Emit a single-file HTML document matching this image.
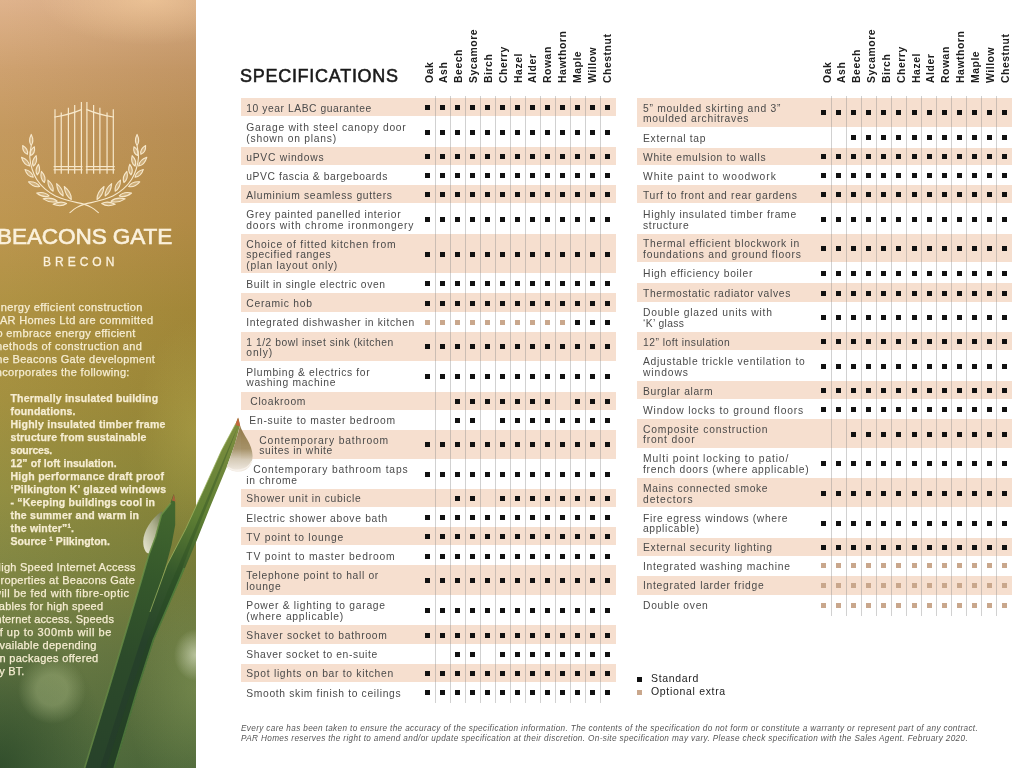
<!DOCTYPE html>
<html lang="en">
<head>
<meta charset="utf-8">
<title>Beacons Gate Brecon - Specifications</title>
<style>
html,body{margin:0;padding:0;}
body{width:1024px;height:768px;position:relative;overflow:hidden;background:#fff;font-family:"Liberation Sans",sans-serif;color:#3a3a3a;}
#panel{position:absolute;left:0;top:0;width:196px;height:768px;overflow:hidden;
 background:
  radial-gradient(ellipse 110px 45px at 150px 0px, rgba(255,215,165,.5), rgba(255,215,165,0) 100%),
  radial-gradient(ellipse 22px 26px at 196px 655px, rgba(235,240,215,.6), rgba(235,240,215,0) 100%),
  radial-gradient(ellipse 70px 120px at 196px 690px, rgba(150,170,100,.38), rgba(150,170,100,0) 100%),
  radial-gradient(ellipse 34px 34px at 52px 690px, rgba(175,190,135,.42) 45%, rgba(175,190,135,0) 100%),
  radial-gradient(ellipse 110px 150px at 0px 768px, rgba(35,65,35,.7), rgba(35,65,35,0) 100%),
  linear-gradient(90deg, rgba(255,255,255,.04), rgba(0,0,0,.05)),
  radial-gradient(ellipse 60px 110px at 196px 430px, rgba(200,190,90,.35), rgba(200,190,90,0) 100%),
  linear-gradient(180deg,#deb088 0px,#cc9d69 70px,#c29558 130px,#bb9249 220px,#ab8e3b 310px,#a08c38 400px,#8f8a3a 490px,#7c823c 570px,#66773f 650px,#4d693a 768px);}
#fg{position:absolute;left:0;top:0;width:1024px;height:768px;filter:blur(.4px);}
#art{position:absolute;left:0;top:0;width:1024px;height:768px;pointer-events:none;filter:blur(.45px);}
.sh{position:absolute;background:#f6dfcf;}
.vl{position:absolute;width:1px;background:rgba(135,135,135,.38);}
.lb{position:absolute;white-space:nowrap;font-size:10.3px;line-height:10.6px;letter-spacing:.68px;color:#4a4a4a;}
.dk,.dt{position:absolute;width:5px;height:5px;background:#111;}
.dt{background:#c9a78c;}
.hd{position:absolute;white-space:nowrap;font-weight:bold;font-size:10.4px;line-height:10px;letter-spacing:.55px;color:#1c1c1c;transform-origin:0 0;transform:rotate(-90deg) translateY(-100%);}
h1{position:absolute;left:240px;top:65.2px;margin:0;font-size:18px;line-height:22px;font-weight:normal;-webkit-text-stroke:.55px #1a1a1a;letter-spacing:.72px;color:#1a1a1a;white-space:nowrap;}
.logo-t{position:absolute;left:-3px;top:223.5px;margin:0;font-size:22.6px;line-height:26px;font-weight:normal;-webkit-text-stroke:.6px #fbf1dc;color:#fbf1dc;white-space:nowrap;letter-spacing:-.12px;}
.logo-s{position:absolute;left:43px;top:254px;font-size:12px;line-height:16px;letter-spacing:4px;-webkit-text-stroke:.3px #fbf1dc;color:#fbf1dc;white-space:nowrap;}
.p1,.p2,.p3{position:absolute;white-space:nowrap;font-size:11px;line-height:13px;color:#f6edd2;letter-spacing:.3px;-webkit-text-stroke:.25px #f6edd2;}
.p1{left:-7px;}
.p2{left:10.5px;font-weight:bold;font-size:10.5px;}
.p3{left:-7px;}
.lg{position:absolute;left:651px;font-size:10.5px;line-height:12px;letter-spacing:.68px;color:#222;white-space:nowrap;}
.ft{position:absolute;left:241px;top:723.9px;font-size:8.2px;line-height:10.2px;font-style:italic;color:#555;white-space:nowrap;letter-spacing:.36px;}
</style>
</head>
<body>
<div id="panel"></div>
<div id="fg">
<h1>SPECIFICATIONS</h1>
<div class="sh" style="left:240.5px;top:97.7px;width:375.1px;height:18.4px"></div>
<div class="sh" style="left:240.5px;top:147.2px;width:375.1px;height:18.2px"></div>
<div class="sh" style="left:240.5px;top:185.2px;width:375.1px;height:18.2px"></div>
<div class="sh" style="left:240.5px;top:234.2px;width:375.1px;height:38.9px"></div>
<div class="sh" style="left:240.5px;top:293.4px;width:375.1px;height:18.3px"></div>
<div class="sh" style="left:240.5px;top:331.7px;width:375.1px;height:29.2px"></div>
<div class="sh" style="left:240.5px;top:391.5px;width:375.1px;height:18.2px"></div>
<div class="sh" style="left:240.5px;top:429.7px;width:375.1px;height:29.0px"></div>
<div class="sh" style="left:240.5px;top:488.7px;width:375.1px;height:18.3px"></div>
<div class="sh" style="left:240.5px;top:527.2px;width:375.1px;height:18.2px"></div>
<div class="sh" style="left:240.5px;top:565.4px;width:375.1px;height:29.2px"></div>
<div class="sh" style="left:240.5px;top:625.2px;width:375.1px;height:18.4px"></div>
<div class="sh" style="left:240.5px;top:663.5px;width:375.1px;height:18.4px"></div>
<div class="vl" style="left:434.89px;top:95.5px;height:607.5px"></div>
<div class="vl" style="left:449.87px;top:95.5px;height:607.5px"></div>
<div class="vl" style="left:464.85px;top:95.5px;height:607.5px"></div>
<div class="vl" style="left:479.83px;top:95.5px;height:607.5px"></div>
<div class="vl" style="left:494.81px;top:95.5px;height:607.5px"></div>
<div class="vl" style="left:509.79px;top:95.5px;height:607.5px"></div>
<div class="vl" style="left:524.77px;top:95.5px;height:607.5px"></div>
<div class="vl" style="left:539.75px;top:95.5px;height:607.5px"></div>
<div class="vl" style="left:554.73px;top:95.5px;height:607.5px"></div>
<div class="vl" style="left:569.71px;top:95.5px;height:607.5px"></div>
<div class="vl" style="left:584.69px;top:95.5px;height:607.5px"></div>
<div class="vl" style="left:599.67px;top:95.5px;height:607.5px"></div>
<div class="lb" style="left:246.3px;top:103.50px;letter-spacing:0.555px">10 year LABC guarantee</div>
<i class="dk" style="left:425.40px;top:105.00px"></i>
<i class="dk" style="left:440.38px;top:105.00px"></i>
<i class="dk" style="left:455.36px;top:105.00px"></i>
<i class="dk" style="left:470.34px;top:105.00px"></i>
<i class="dk" style="left:485.32px;top:105.00px"></i>
<i class="dk" style="left:500.30px;top:105.00px"></i>
<i class="dk" style="left:515.28px;top:105.00px"></i>
<i class="dk" style="left:530.26px;top:105.00px"></i>
<i class="dk" style="left:545.24px;top:105.00px"></i>
<i class="dk" style="left:560.22px;top:105.00px"></i>
<i class="dk" style="left:575.20px;top:105.00px"></i>
<i class="dk" style="left:590.18px;top:105.00px"></i>
<i class="dk" style="left:605.16px;top:105.00px"></i>
<div class="lb" style="left:246.3px;top:122.95px;letter-spacing:0.705px">Garage with steel canopy door</div>
<div class="lb" style="left:246.3px;top:133.55px;letter-spacing:0.759px">(shown on plans)</div>
<i class="dk" style="left:425.40px;top:129.75px"></i>
<i class="dk" style="left:440.38px;top:129.75px"></i>
<i class="dk" style="left:455.36px;top:129.75px"></i>
<i class="dk" style="left:470.34px;top:129.75px"></i>
<i class="dk" style="left:485.32px;top:129.75px"></i>
<i class="dk" style="left:500.30px;top:129.75px"></i>
<i class="dk" style="left:515.28px;top:129.75px"></i>
<i class="dk" style="left:530.26px;top:129.75px"></i>
<i class="dk" style="left:545.24px;top:129.75px"></i>
<i class="dk" style="left:560.22px;top:129.75px"></i>
<i class="dk" style="left:575.20px;top:129.75px"></i>
<i class="dk" style="left:590.18px;top:129.75px"></i>
<i class="dk" style="left:605.16px;top:129.75px"></i>
<div class="lb" style="left:246.3px;top:152.90px;letter-spacing:0.732px">uPVC windows</div>
<i class="dk" style="left:425.40px;top:154.40px"></i>
<i class="dk" style="left:440.38px;top:154.40px"></i>
<i class="dk" style="left:455.36px;top:154.40px"></i>
<i class="dk" style="left:470.34px;top:154.40px"></i>
<i class="dk" style="left:485.32px;top:154.40px"></i>
<i class="dk" style="left:500.30px;top:154.40px"></i>
<i class="dk" style="left:515.28px;top:154.40px"></i>
<i class="dk" style="left:530.26px;top:154.40px"></i>
<i class="dk" style="left:545.24px;top:154.40px"></i>
<i class="dk" style="left:560.22px;top:154.40px"></i>
<i class="dk" style="left:575.20px;top:154.40px"></i>
<i class="dk" style="left:590.18px;top:154.40px"></i>
<i class="dk" style="left:605.16px;top:154.40px"></i>
<div class="lb" style="left:246.3px;top:171.90px;letter-spacing:0.58px">uPVC fascia &amp; bargeboards</div>
<i class="dk" style="left:425.40px;top:173.40px"></i>
<i class="dk" style="left:440.38px;top:173.40px"></i>
<i class="dk" style="left:455.36px;top:173.40px"></i>
<i class="dk" style="left:470.34px;top:173.40px"></i>
<i class="dk" style="left:485.32px;top:173.40px"></i>
<i class="dk" style="left:500.30px;top:173.40px"></i>
<i class="dk" style="left:515.28px;top:173.40px"></i>
<i class="dk" style="left:530.26px;top:173.40px"></i>
<i class="dk" style="left:545.24px;top:173.40px"></i>
<i class="dk" style="left:560.22px;top:173.40px"></i>
<i class="dk" style="left:575.20px;top:173.40px"></i>
<i class="dk" style="left:590.18px;top:173.40px"></i>
<i class="dk" style="left:605.16px;top:173.40px"></i>
<div class="lb" style="left:246.3px;top:190.90px;letter-spacing:0.677px">Aluminium seamless gutters</div>
<i class="dk" style="left:425.40px;top:192.40px"></i>
<i class="dk" style="left:440.38px;top:192.40px"></i>
<i class="dk" style="left:455.36px;top:192.40px"></i>
<i class="dk" style="left:470.34px;top:192.40px"></i>
<i class="dk" style="left:485.32px;top:192.40px"></i>
<i class="dk" style="left:500.30px;top:192.40px"></i>
<i class="dk" style="left:515.28px;top:192.40px"></i>
<i class="dk" style="left:530.26px;top:192.40px"></i>
<i class="dk" style="left:545.24px;top:192.40px"></i>
<i class="dk" style="left:560.22px;top:192.40px"></i>
<i class="dk" style="left:575.20px;top:192.40px"></i>
<i class="dk" style="left:590.18px;top:192.40px"></i>
<i class="dk" style="left:605.16px;top:192.40px"></i>
<div class="lb" style="left:246.3px;top:210.10px;letter-spacing:0.662px">Grey painted panelled interior</div>
<div class="lb" style="left:246.3px;top:220.70px;letter-spacing:0.821px">doors with chrome ironmongery</div>
<i class="dk" style="left:425.40px;top:216.90px"></i>
<i class="dk" style="left:440.38px;top:216.90px"></i>
<i class="dk" style="left:455.36px;top:216.90px"></i>
<i class="dk" style="left:470.34px;top:216.90px"></i>
<i class="dk" style="left:485.32px;top:216.90px"></i>
<i class="dk" style="left:500.30px;top:216.90px"></i>
<i class="dk" style="left:515.28px;top:216.90px"></i>
<i class="dk" style="left:530.26px;top:216.90px"></i>
<i class="dk" style="left:545.24px;top:216.90px"></i>
<i class="dk" style="left:560.22px;top:216.90px"></i>
<i class="dk" style="left:575.20px;top:216.90px"></i>
<i class="dk" style="left:590.18px;top:216.90px"></i>
<i class="dk" style="left:605.16px;top:216.90px"></i>
<div class="lb" style="left:246.3px;top:239.65px;letter-spacing:0.77px">Choice of fitted kitchen from</div>
<div class="lb" style="left:246.3px;top:250.25px;letter-spacing:0.628px">specified ranges</div>
<div class="lb" style="left:246.3px;top:260.85px;letter-spacing:0.74px">(plan layout only)</div>
<i class="dk" style="left:425.40px;top:251.75px"></i>
<i class="dk" style="left:440.38px;top:251.75px"></i>
<i class="dk" style="left:455.36px;top:251.75px"></i>
<i class="dk" style="left:470.34px;top:251.75px"></i>
<i class="dk" style="left:485.32px;top:251.75px"></i>
<i class="dk" style="left:500.30px;top:251.75px"></i>
<i class="dk" style="left:515.28px;top:251.75px"></i>
<i class="dk" style="left:530.26px;top:251.75px"></i>
<i class="dk" style="left:545.24px;top:251.75px"></i>
<i class="dk" style="left:560.22px;top:251.75px"></i>
<i class="dk" style="left:575.20px;top:251.75px"></i>
<i class="dk" style="left:590.18px;top:251.75px"></i>
<i class="dk" style="left:605.16px;top:251.75px"></i>
<div class="lb" style="left:246.3px;top:279.85px;letter-spacing:0.62px">Built in single electric oven</div>
<i class="dk" style="left:425.40px;top:281.35px"></i>
<i class="dk" style="left:440.38px;top:281.35px"></i>
<i class="dk" style="left:455.36px;top:281.35px"></i>
<i class="dk" style="left:470.34px;top:281.35px"></i>
<i class="dk" style="left:485.32px;top:281.35px"></i>
<i class="dk" style="left:500.30px;top:281.35px"></i>
<i class="dk" style="left:515.28px;top:281.35px"></i>
<i class="dk" style="left:530.26px;top:281.35px"></i>
<i class="dk" style="left:545.24px;top:281.35px"></i>
<i class="dk" style="left:560.22px;top:281.35px"></i>
<i class="dk" style="left:575.20px;top:281.35px"></i>
<i class="dk" style="left:590.18px;top:281.35px"></i>
<i class="dk" style="left:605.16px;top:281.35px"></i>
<div class="lb" style="left:246.3px;top:299.15px;letter-spacing:0.722px">Ceramic hob</div>
<i class="dk" style="left:425.40px;top:300.65px"></i>
<i class="dk" style="left:440.38px;top:300.65px"></i>
<i class="dk" style="left:455.36px;top:300.65px"></i>
<i class="dk" style="left:470.34px;top:300.65px"></i>
<i class="dk" style="left:485.32px;top:300.65px"></i>
<i class="dk" style="left:500.30px;top:300.65px"></i>
<i class="dk" style="left:515.28px;top:300.65px"></i>
<i class="dk" style="left:530.26px;top:300.65px"></i>
<i class="dk" style="left:545.24px;top:300.65px"></i>
<i class="dk" style="left:560.22px;top:300.65px"></i>
<i class="dk" style="left:575.20px;top:300.65px"></i>
<i class="dk" style="left:590.18px;top:300.65px"></i>
<i class="dk" style="left:605.16px;top:300.65px"></i>
<div class="lb" style="left:246.3px;top:318.30px;letter-spacing:0.655px">Integrated dishwasher in kitchen</div>
<i class="dt" style="left:425.40px;top:319.80px"></i>
<i class="dt" style="left:440.38px;top:319.80px"></i>
<i class="dt" style="left:455.36px;top:319.80px"></i>
<i class="dt" style="left:470.34px;top:319.80px"></i>
<i class="dt" style="left:485.32px;top:319.80px"></i>
<i class="dt" style="left:500.30px;top:319.80px"></i>
<i class="dt" style="left:515.28px;top:319.80px"></i>
<i class="dt" style="left:530.26px;top:319.80px"></i>
<i class="dt" style="left:545.24px;top:319.80px"></i>
<i class="dt" style="left:560.22px;top:319.80px"></i>
<i class="dk" style="left:575.20px;top:319.80px"></i>
<i class="dk" style="left:590.18px;top:319.80px"></i>
<i class="dk" style="left:605.16px;top:319.80px"></i>
<div class="lb" style="left:246.3px;top:337.60px;letter-spacing:0.526px">1 1/2 bowl inset sink (kitchen</div>
<div class="lb" style="left:246.3px;top:348.20px;letter-spacing:0.868px">only)</div>
<i class="dk" style="left:425.40px;top:344.40px"></i>
<i class="dk" style="left:440.38px;top:344.40px"></i>
<i class="dk" style="left:455.36px;top:344.40px"></i>
<i class="dk" style="left:470.34px;top:344.40px"></i>
<i class="dk" style="left:485.32px;top:344.40px"></i>
<i class="dk" style="left:500.30px;top:344.40px"></i>
<i class="dk" style="left:515.28px;top:344.40px"></i>
<i class="dk" style="left:530.26px;top:344.40px"></i>
<i class="dk" style="left:545.24px;top:344.40px"></i>
<i class="dk" style="left:560.22px;top:344.40px"></i>
<i class="dk" style="left:575.20px;top:344.40px"></i>
<i class="dk" style="left:590.18px;top:344.40px"></i>
<i class="dk" style="left:605.16px;top:344.40px"></i>
<div class="lb" style="left:246.3px;top:367.50px;letter-spacing:0.662px">Plumbing &amp; electrics for</div>
<div class="lb" style="left:246.3px;top:378.10px;letter-spacing:0.681px">washing machine</div>
<i class="dk" style="left:425.40px;top:374.30px"></i>
<i class="dk" style="left:440.38px;top:374.30px"></i>
<i class="dk" style="left:455.36px;top:374.30px"></i>
<i class="dk" style="left:470.34px;top:374.30px"></i>
<i class="dk" style="left:485.32px;top:374.30px"></i>
<i class="dk" style="left:500.30px;top:374.30px"></i>
<i class="dk" style="left:515.28px;top:374.30px"></i>
<i class="dk" style="left:530.26px;top:374.30px"></i>
<i class="dk" style="left:545.24px;top:374.30px"></i>
<i class="dk" style="left:560.22px;top:374.30px"></i>
<i class="dk" style="left:575.20px;top:374.30px"></i>
<i class="dk" style="left:590.18px;top:374.30px"></i>
<i class="dk" style="left:605.16px;top:374.30px"></i>
<div class="lb" style="left:250.3px;top:397.20px;letter-spacing:0.663px">Cloakroom</div>
<i class="dk" style="left:455.36px;top:398.70px"></i>
<i class="dk" style="left:470.34px;top:398.70px"></i>
<i class="dk" style="left:485.32px;top:398.70px"></i>
<i class="dk" style="left:500.30px;top:398.70px"></i>
<i class="dk" style="left:515.28px;top:398.70px"></i>
<i class="dk" style="left:530.26px;top:398.70px"></i>
<i class="dk" style="left:545.24px;top:398.70px"></i>
<i class="dk" style="left:575.20px;top:398.70px"></i>
<i class="dk" style="left:590.18px;top:398.70px"></i>
<i class="dk" style="left:605.16px;top:398.70px"></i>
<div class="lb" style="left:249.3px;top:416.30px;letter-spacing:0.745px">En-suite to master bedroom</div>
<i class="dk" style="left:455.36px;top:417.80px"></i>
<i class="dk" style="left:470.34px;top:417.80px"></i>
<i class="dk" style="left:500.30px;top:417.80px"></i>
<i class="dk" style="left:515.28px;top:417.80px"></i>
<i class="dk" style="left:530.26px;top:417.80px"></i>
<i class="dk" style="left:545.24px;top:417.80px"></i>
<i class="dk" style="left:560.22px;top:417.80px"></i>
<i class="dk" style="left:575.20px;top:417.80px"></i>
<i class="dk" style="left:590.18px;top:417.80px"></i>
<i class="dk" style="left:605.16px;top:417.80px"></i>
<div class="lb" style="left:259.3px;top:435.50px;letter-spacing:0.865px">Contemporary bathroom</div>
<div class="lb" style="left:259.3px;top:446.10px;letter-spacing:0.594px">suites in white</div>
<i class="dk" style="left:425.40px;top:442.30px"></i>
<i class="dk" style="left:440.38px;top:442.30px"></i>
<i class="dk" style="left:455.36px;top:442.30px"></i>
<i class="dk" style="left:470.34px;top:442.30px"></i>
<i class="dk" style="left:485.32px;top:442.30px"></i>
<i class="dk" style="left:500.30px;top:442.30px"></i>
<i class="dk" style="left:515.28px;top:442.30px"></i>
<i class="dk" style="left:530.26px;top:442.30px"></i>
<i class="dk" style="left:545.24px;top:442.30px"></i>
<i class="dk" style="left:560.22px;top:442.30px"></i>
<i class="dk" style="left:575.20px;top:442.30px"></i>
<i class="dk" style="left:590.18px;top:442.30px"></i>
<i class="dk" style="left:605.16px;top:442.30px"></i>
<div class="lb" style="left:253.3px;top:465.00px;letter-spacing:0.815px">Contemporary bathroom taps</div>
<div class="lb" style="left:246.3px;top:475.60px;letter-spacing:0.698px">in chrome</div>
<i class="dk" style="left:425.40px;top:471.80px"></i>
<i class="dk" style="left:440.38px;top:471.80px"></i>
<i class="dk" style="left:455.36px;top:471.80px"></i>
<i class="dk" style="left:470.34px;top:471.80px"></i>
<i class="dk" style="left:485.32px;top:471.80px"></i>
<i class="dk" style="left:500.30px;top:471.80px"></i>
<i class="dk" style="left:515.28px;top:471.80px"></i>
<i class="dk" style="left:530.26px;top:471.80px"></i>
<i class="dk" style="left:545.24px;top:471.80px"></i>
<i class="dk" style="left:560.22px;top:471.80px"></i>
<i class="dk" style="left:575.20px;top:471.80px"></i>
<i class="dk" style="left:590.18px;top:471.80px"></i>
<i class="dk" style="left:605.16px;top:471.80px"></i>
<div class="lb" style="left:246.3px;top:494.45px;letter-spacing:0.682px">Shower unit in cubicle</div>
<i class="dk" style="left:455.36px;top:495.95px"></i>
<i class="dk" style="left:470.34px;top:495.95px"></i>
<i class="dk" style="left:500.30px;top:495.95px"></i>
<i class="dk" style="left:515.28px;top:495.95px"></i>
<i class="dk" style="left:530.26px;top:495.95px"></i>
<i class="dk" style="left:545.24px;top:495.95px"></i>
<i class="dk" style="left:560.22px;top:495.95px"></i>
<i class="dk" style="left:575.20px;top:495.95px"></i>
<i class="dk" style="left:590.18px;top:495.95px"></i>
<i class="dk" style="left:605.16px;top:495.95px"></i>
<div class="lb" style="left:246.3px;top:513.70px;letter-spacing:0.694px">Electric shower above bath</div>
<i class="dk" style="left:425.40px;top:515.20px"></i>
<i class="dk" style="left:440.38px;top:515.20px"></i>
<i class="dk" style="left:455.36px;top:515.20px"></i>
<i class="dk" style="left:470.34px;top:515.20px"></i>
<i class="dk" style="left:485.32px;top:515.20px"></i>
<i class="dk" style="left:500.30px;top:515.20px"></i>
<i class="dk" style="left:515.28px;top:515.20px"></i>
<i class="dk" style="left:530.26px;top:515.20px"></i>
<i class="dk" style="left:545.24px;top:515.20px"></i>
<i class="dk" style="left:560.22px;top:515.20px"></i>
<i class="dk" style="left:575.20px;top:515.20px"></i>
<i class="dk" style="left:590.18px;top:515.20px"></i>
<i class="dk" style="left:605.16px;top:515.20px"></i>
<div class="lb" style="left:246.3px;top:532.90px;letter-spacing:0.784px">TV point to lounge</div>
<i class="dk" style="left:425.40px;top:534.40px"></i>
<i class="dk" style="left:440.38px;top:534.40px"></i>
<i class="dk" style="left:455.36px;top:534.40px"></i>
<i class="dk" style="left:470.34px;top:534.40px"></i>
<i class="dk" style="left:485.32px;top:534.40px"></i>
<i class="dk" style="left:500.30px;top:534.40px"></i>
<i class="dk" style="left:515.28px;top:534.40px"></i>
<i class="dk" style="left:530.26px;top:534.40px"></i>
<i class="dk" style="left:545.24px;top:534.40px"></i>
<i class="dk" style="left:560.22px;top:534.40px"></i>
<i class="dk" style="left:575.20px;top:534.40px"></i>
<i class="dk" style="left:590.18px;top:534.40px"></i>
<i class="dk" style="left:605.16px;top:534.40px"></i>
<div class="lb" style="left:246.3px;top:552.00px;letter-spacing:0.83px">TV point to master bedroom</div>
<i class="dk" style="left:425.40px;top:553.50px"></i>
<i class="dk" style="left:440.38px;top:553.50px"></i>
<i class="dk" style="left:455.36px;top:553.50px"></i>
<i class="dk" style="left:470.34px;top:553.50px"></i>
<i class="dk" style="left:485.32px;top:553.50px"></i>
<i class="dk" style="left:500.30px;top:553.50px"></i>
<i class="dk" style="left:515.28px;top:553.50px"></i>
<i class="dk" style="left:530.26px;top:553.50px"></i>
<i class="dk" style="left:545.24px;top:553.50px"></i>
<i class="dk" style="left:560.22px;top:553.50px"></i>
<i class="dk" style="left:575.20px;top:553.50px"></i>
<i class="dk" style="left:590.18px;top:553.50px"></i>
<i class="dk" style="left:605.16px;top:553.50px"></i>
<div class="lb" style="left:246.3px;top:571.30px;letter-spacing:0.677px">Telephone point to hall or</div>
<div class="lb" style="left:246.3px;top:581.90px;letter-spacing:0.696px">lounge</div>
<i class="dk" style="left:425.40px;top:578.10px"></i>
<i class="dk" style="left:440.38px;top:578.10px"></i>
<i class="dk" style="left:455.36px;top:578.10px"></i>
<i class="dk" style="left:470.34px;top:578.10px"></i>
<i class="dk" style="left:485.32px;top:578.10px"></i>
<i class="dk" style="left:500.30px;top:578.10px"></i>
<i class="dk" style="left:515.28px;top:578.10px"></i>
<i class="dk" style="left:530.26px;top:578.10px"></i>
<i class="dk" style="left:545.24px;top:578.10px"></i>
<i class="dk" style="left:560.22px;top:578.10px"></i>
<i class="dk" style="left:575.20px;top:578.10px"></i>
<i class="dk" style="left:590.18px;top:578.10px"></i>
<i class="dk" style="left:605.16px;top:578.10px"></i>
<div class="lb" style="left:246.3px;top:601.20px;letter-spacing:0.717px">Power &amp; lighting to garage</div>
<div class="lb" style="left:246.3px;top:611.80px;letter-spacing:0.751px">(where applicable)</div>
<i class="dk" style="left:425.40px;top:608.00px"></i>
<i class="dk" style="left:440.38px;top:608.00px"></i>
<i class="dk" style="left:455.36px;top:608.00px"></i>
<i class="dk" style="left:470.34px;top:608.00px"></i>
<i class="dk" style="left:485.32px;top:608.00px"></i>
<i class="dk" style="left:500.30px;top:608.00px"></i>
<i class="dk" style="left:515.28px;top:608.00px"></i>
<i class="dk" style="left:530.26px;top:608.00px"></i>
<i class="dk" style="left:545.24px;top:608.00px"></i>
<i class="dk" style="left:560.22px;top:608.00px"></i>
<i class="dk" style="left:575.20px;top:608.00px"></i>
<i class="dk" style="left:590.18px;top:608.00px"></i>
<i class="dk" style="left:605.16px;top:608.00px"></i>
<div class="lb" style="left:246.3px;top:631.00px;letter-spacing:0.731px">Shaver socket to bathroom</div>
<i class="dk" style="left:425.40px;top:632.50px"></i>
<i class="dk" style="left:440.38px;top:632.50px"></i>
<i class="dk" style="left:455.36px;top:632.50px"></i>
<i class="dk" style="left:470.34px;top:632.50px"></i>
<i class="dk" style="left:485.32px;top:632.50px"></i>
<i class="dk" style="left:500.30px;top:632.50px"></i>
<i class="dk" style="left:515.28px;top:632.50px"></i>
<i class="dk" style="left:530.26px;top:632.50px"></i>
<i class="dk" style="left:545.24px;top:632.50px"></i>
<i class="dk" style="left:560.22px;top:632.50px"></i>
<i class="dk" style="left:575.20px;top:632.50px"></i>
<i class="dk" style="left:590.18px;top:632.50px"></i>
<i class="dk" style="left:605.16px;top:632.50px"></i>
<div class="lb" style="left:246.3px;top:650.15px;letter-spacing:0.613px">Shaver socket to en-suite</div>
<i class="dk" style="left:455.36px;top:651.65px"></i>
<i class="dk" style="left:470.34px;top:651.65px"></i>
<i class="dk" style="left:500.30px;top:651.65px"></i>
<i class="dk" style="left:515.28px;top:651.65px"></i>
<i class="dk" style="left:530.26px;top:651.65px"></i>
<i class="dk" style="left:545.24px;top:651.65px"></i>
<i class="dk" style="left:560.22px;top:651.65px"></i>
<i class="dk" style="left:575.20px;top:651.65px"></i>
<i class="dk" style="left:590.18px;top:651.65px"></i>
<i class="dk" style="left:605.16px;top:651.65px"></i>
<div class="lb" style="left:246.3px;top:669.30px;letter-spacing:0.708px">Spot lights on bar to kitchen</div>
<i class="dk" style="left:425.40px;top:670.80px"></i>
<i class="dk" style="left:440.38px;top:670.80px"></i>
<i class="dk" style="left:455.36px;top:670.80px"></i>
<i class="dk" style="left:470.34px;top:670.80px"></i>
<i class="dk" style="left:485.32px;top:670.80px"></i>
<i class="dk" style="left:500.30px;top:670.80px"></i>
<i class="dk" style="left:515.28px;top:670.80px"></i>
<i class="dk" style="left:530.26px;top:670.80px"></i>
<i class="dk" style="left:545.24px;top:670.80px"></i>
<i class="dk" style="left:560.22px;top:670.80px"></i>
<i class="dk" style="left:575.20px;top:670.80px"></i>
<i class="dk" style="left:590.18px;top:670.80px"></i>
<i class="dk" style="left:605.16px;top:670.80px"></i>
<div class="lb" style="left:246.3px;top:688.65px;letter-spacing:0.663px">Smooth skim finish to ceilings</div>
<i class="dk" style="left:425.40px;top:690.15px"></i>
<i class="dk" style="left:440.38px;top:690.15px"></i>
<i class="dk" style="left:455.36px;top:690.15px"></i>
<i class="dk" style="left:470.34px;top:690.15px"></i>
<i class="dk" style="left:485.32px;top:690.15px"></i>
<i class="dk" style="left:500.30px;top:690.15px"></i>
<i class="dk" style="left:515.28px;top:690.15px"></i>
<i class="dk" style="left:530.26px;top:690.15px"></i>
<i class="dk" style="left:545.24px;top:690.15px"></i>
<i class="dk" style="left:560.22px;top:690.15px"></i>
<i class="dk" style="left:575.20px;top:690.15px"></i>
<i class="dk" style="left:590.18px;top:690.15px"></i>
<i class="dk" style="left:605.16px;top:690.15px"></i>
<div class="hd" style="left:434.60px;top:83px">Oak</div>
<div class="hd" style="left:449.44px;top:83px">Ash</div>
<div class="hd" style="left:464.28px;top:83px">Beech</div>
<div class="hd" style="left:479.12px;top:83px">Sycamore</div>
<div class="hd" style="left:493.96px;top:83px">Birch</div>
<div class="hd" style="left:508.80px;top:83px">Cherry</div>
<div class="hd" style="left:523.64px;top:83px">Hazel</div>
<div class="hd" style="left:538.48px;top:83px">Alder</div>
<div class="hd" style="left:553.32px;top:83px">Rowan</div>
<div class="hd" style="left:568.16px;top:83px">Hawthorn</div>
<div class="hd" style="left:583.00px;top:83px">Maple</div>
<div class="hd" style="left:597.84px;top:83px">Willow</div>
<div class="hd" style="left:612.68px;top:83px">Chestnut</div>
<div class="sh" style="left:637px;top:97.7px;width:375px;height:29.1px"></div>
<div class="sh" style="left:637px;top:147.5px;width:375px;height:17.7px"></div>
<div class="sh" style="left:637px;top:185.2px;width:375px;height:18.2px"></div>
<div class="sh" style="left:637px;top:234.2px;width:375px;height:27.9px"></div>
<div class="sh" style="left:637px;top:283.2px;width:375px;height:18.5px"></div>
<div class="sh" style="left:637px;top:332.2px;width:375px;height:18.0px"></div>
<div class="sh" style="left:637px;top:381.2px;width:375px;height:17.7px"></div>
<div class="sh" style="left:637px;top:419.4px;width:375px;height:28.3px"></div>
<div class="sh" style="left:637px;top:478.2px;width:375px;height:28.8px"></div>
<div class="sh" style="left:637px;top:537.9px;width:375px;height:18.5px"></div>
<div class="sh" style="left:637px;top:576.4px;width:375px;height:18.2px"></div>
<div class="vl" style="left:830.63px;top:95.5px;height:520.5px"></div>
<div class="vl" style="left:845.71px;top:95.5px;height:520.5px"></div>
<div class="vl" style="left:860.77px;top:95.5px;height:520.5px"></div>
<div class="vl" style="left:875.85px;top:95.5px;height:520.5px"></div>
<div class="vl" style="left:890.91px;top:95.5px;height:520.5px"></div>
<div class="vl" style="left:905.99px;top:95.5px;height:520.5px"></div>
<div class="vl" style="left:921.06px;top:95.5px;height:520.5px"></div>
<div class="vl" style="left:936.12px;top:95.5px;height:520.5px"></div>
<div class="vl" style="left:951.20px;top:95.5px;height:520.5px"></div>
<div class="vl" style="left:966.26px;top:95.5px;height:520.5px"></div>
<div class="vl" style="left:981.34px;top:95.5px;height:520.5px"></div>
<div class="vl" style="left:996.40px;top:95.5px;height:520.5px"></div>
<div class="lb" style="left:643px;top:103.55px;letter-spacing:0.738px">5” moulded skirting and 3”</div>
<div class="lb" style="left:643px;top:114.15px;letter-spacing:0.71px">moulded architraves</div>
<i class="dk" style="left:821.10px;top:110.35px"></i>
<i class="dk" style="left:836.17px;top:110.35px"></i>
<i class="dk" style="left:851.24px;top:110.35px"></i>
<i class="dk" style="left:866.31px;top:110.35px"></i>
<i class="dk" style="left:881.38px;top:110.35px"></i>
<i class="dk" style="left:896.45px;top:110.35px"></i>
<i class="dk" style="left:911.52px;top:110.35px"></i>
<i class="dk" style="left:926.59px;top:110.35px"></i>
<i class="dk" style="left:941.66px;top:110.35px"></i>
<i class="dk" style="left:956.73px;top:110.35px"></i>
<i class="dk" style="left:971.80px;top:110.35px"></i>
<i class="dk" style="left:986.87px;top:110.35px"></i>
<i class="dk" style="left:1001.94px;top:110.35px"></i>
<div class="lb" style="left:643px;top:133.75px;letter-spacing:0.686px">External tap</div>
<i class="dk" style="left:851.24px;top:135.25px"></i>
<i class="dk" style="left:866.31px;top:135.25px"></i>
<i class="dk" style="left:881.38px;top:135.25px"></i>
<i class="dk" style="left:896.45px;top:135.25px"></i>
<i class="dk" style="left:911.52px;top:135.25px"></i>
<i class="dk" style="left:926.59px;top:135.25px"></i>
<i class="dk" style="left:941.66px;top:135.25px"></i>
<i class="dk" style="left:956.73px;top:135.25px"></i>
<i class="dk" style="left:971.80px;top:135.25px"></i>
<i class="dk" style="left:986.87px;top:135.25px"></i>
<i class="dk" style="left:1001.94px;top:135.25px"></i>
<div class="lb" style="left:643px;top:152.95px;letter-spacing:0.687px">White emulsion to walls</div>
<i class="dk" style="left:821.10px;top:154.45px"></i>
<i class="dk" style="left:836.17px;top:154.45px"></i>
<i class="dk" style="left:851.24px;top:154.45px"></i>
<i class="dk" style="left:866.31px;top:154.45px"></i>
<i class="dk" style="left:881.38px;top:154.45px"></i>
<i class="dk" style="left:896.45px;top:154.45px"></i>
<i class="dk" style="left:911.52px;top:154.45px"></i>
<i class="dk" style="left:926.59px;top:154.45px"></i>
<i class="dk" style="left:941.66px;top:154.45px"></i>
<i class="dk" style="left:956.73px;top:154.45px"></i>
<i class="dk" style="left:971.80px;top:154.45px"></i>
<i class="dk" style="left:986.87px;top:154.45px"></i>
<i class="dk" style="left:1001.94px;top:154.45px"></i>
<div class="lb" style="left:643px;top:171.80px;letter-spacing:0.937px">White paint to woodwork</div>
<i class="dk" style="left:821.10px;top:173.30px"></i>
<i class="dk" style="left:836.17px;top:173.30px"></i>
<i class="dk" style="left:851.24px;top:173.30px"></i>
<i class="dk" style="left:866.31px;top:173.30px"></i>
<i class="dk" style="left:881.38px;top:173.30px"></i>
<i class="dk" style="left:896.45px;top:173.30px"></i>
<i class="dk" style="left:911.52px;top:173.30px"></i>
<i class="dk" style="left:926.59px;top:173.30px"></i>
<i class="dk" style="left:941.66px;top:173.30px"></i>
<i class="dk" style="left:956.73px;top:173.30px"></i>
<i class="dk" style="left:971.80px;top:173.30px"></i>
<i class="dk" style="left:986.87px;top:173.30px"></i>
<i class="dk" style="left:1001.94px;top:173.30px"></i>
<div class="lb" style="left:643px;top:190.90px;letter-spacing:0.682px">Turf to front and rear gardens</div>
<i class="dk" style="left:821.10px;top:192.40px"></i>
<i class="dk" style="left:836.17px;top:192.40px"></i>
<i class="dk" style="left:851.24px;top:192.40px"></i>
<i class="dk" style="left:866.31px;top:192.40px"></i>
<i class="dk" style="left:881.38px;top:192.40px"></i>
<i class="dk" style="left:896.45px;top:192.40px"></i>
<i class="dk" style="left:911.52px;top:192.40px"></i>
<i class="dk" style="left:926.59px;top:192.40px"></i>
<i class="dk" style="left:941.66px;top:192.40px"></i>
<i class="dk" style="left:956.73px;top:192.40px"></i>
<i class="dk" style="left:971.80px;top:192.40px"></i>
<i class="dk" style="left:986.87px;top:192.40px"></i>
<i class="dk" style="left:1001.94px;top:192.40px"></i>
<div class="lb" style="left:643px;top:210.10px;letter-spacing:0.706px">Highly insulated timber frame</div>
<div class="lb" style="left:643px;top:220.70px;letter-spacing:0.705px">structure</div>
<i class="dk" style="left:821.10px;top:216.90px"></i>
<i class="dk" style="left:836.17px;top:216.90px"></i>
<i class="dk" style="left:851.24px;top:216.90px"></i>
<i class="dk" style="left:866.31px;top:216.90px"></i>
<i class="dk" style="left:881.38px;top:216.90px"></i>
<i class="dk" style="left:896.45px;top:216.90px"></i>
<i class="dk" style="left:911.52px;top:216.90px"></i>
<i class="dk" style="left:926.59px;top:216.90px"></i>
<i class="dk" style="left:941.66px;top:216.90px"></i>
<i class="dk" style="left:956.73px;top:216.90px"></i>
<i class="dk" style="left:971.80px;top:216.90px"></i>
<i class="dk" style="left:986.87px;top:216.90px"></i>
<i class="dk" style="left:1001.94px;top:216.90px"></i>
<div class="lb" style="left:643px;top:239.45px;letter-spacing:0.717px">Thermal efficient blockwork in</div>
<div class="lb" style="left:643px;top:250.05px;letter-spacing:0.77px">foundations and ground floors</div>
<i class="dk" style="left:821.10px;top:246.25px"></i>
<i class="dk" style="left:836.17px;top:246.25px"></i>
<i class="dk" style="left:851.24px;top:246.25px"></i>
<i class="dk" style="left:866.31px;top:246.25px"></i>
<i class="dk" style="left:881.38px;top:246.25px"></i>
<i class="dk" style="left:896.45px;top:246.25px"></i>
<i class="dk" style="left:911.52px;top:246.25px"></i>
<i class="dk" style="left:926.59px;top:246.25px"></i>
<i class="dk" style="left:941.66px;top:246.25px"></i>
<i class="dk" style="left:956.73px;top:246.25px"></i>
<i class="dk" style="left:971.80px;top:246.25px"></i>
<i class="dk" style="left:986.87px;top:246.25px"></i>
<i class="dk" style="left:1001.94px;top:246.25px"></i>
<div class="lb" style="left:643px;top:269.25px;letter-spacing:0.694px">High efficiency boiler</div>
<i class="dk" style="left:821.10px;top:270.75px"></i>
<i class="dk" style="left:836.17px;top:270.75px"></i>
<i class="dk" style="left:851.24px;top:270.75px"></i>
<i class="dk" style="left:866.31px;top:270.75px"></i>
<i class="dk" style="left:881.38px;top:270.75px"></i>
<i class="dk" style="left:896.45px;top:270.75px"></i>
<i class="dk" style="left:911.52px;top:270.75px"></i>
<i class="dk" style="left:926.59px;top:270.75px"></i>
<i class="dk" style="left:941.66px;top:270.75px"></i>
<i class="dk" style="left:956.73px;top:270.75px"></i>
<i class="dk" style="left:971.80px;top:270.75px"></i>
<i class="dk" style="left:986.87px;top:270.75px"></i>
<i class="dk" style="left:1001.94px;top:270.75px"></i>
<div class="lb" style="left:643px;top:289.05px;letter-spacing:0.665px">Thermostatic radiator valves</div>
<i class="dk" style="left:821.10px;top:290.55px"></i>
<i class="dk" style="left:836.17px;top:290.55px"></i>
<i class="dk" style="left:851.24px;top:290.55px"></i>
<i class="dk" style="left:866.31px;top:290.55px"></i>
<i class="dk" style="left:881.38px;top:290.55px"></i>
<i class="dk" style="left:896.45px;top:290.55px"></i>
<i class="dk" style="left:911.52px;top:290.55px"></i>
<i class="dk" style="left:926.59px;top:290.55px"></i>
<i class="dk" style="left:941.66px;top:290.55px"></i>
<i class="dk" style="left:956.73px;top:290.55px"></i>
<i class="dk" style="left:971.80px;top:290.55px"></i>
<i class="dk" style="left:986.87px;top:290.55px"></i>
<i class="dk" style="left:1001.94px;top:290.55px"></i>
<div class="lb" style="left:643px;top:308.25px;letter-spacing:0.751px">Double glazed units with</div>
<div class="lb" style="left:643px;top:318.85px;letter-spacing:0.379px">‘K’ glass</div>
<i class="dk" style="left:821.10px;top:315.05px"></i>
<i class="dk" style="left:836.17px;top:315.05px"></i>
<i class="dk" style="left:851.24px;top:315.05px"></i>
<i class="dk" style="left:866.31px;top:315.05px"></i>
<i class="dk" style="left:881.38px;top:315.05px"></i>
<i class="dk" style="left:896.45px;top:315.05px"></i>
<i class="dk" style="left:911.52px;top:315.05px"></i>
<i class="dk" style="left:926.59px;top:315.05px"></i>
<i class="dk" style="left:941.66px;top:315.05px"></i>
<i class="dk" style="left:956.73px;top:315.05px"></i>
<i class="dk" style="left:971.80px;top:315.05px"></i>
<i class="dk" style="left:986.87px;top:315.05px"></i>
<i class="dk" style="left:1001.94px;top:315.05px"></i>
<div class="lb" style="left:643px;top:337.80px;letter-spacing:0.491px">12” loft insulation</div>
<i class="dk" style="left:821.10px;top:339.30px"></i>
<i class="dk" style="left:836.17px;top:339.30px"></i>
<i class="dk" style="left:851.24px;top:339.30px"></i>
<i class="dk" style="left:866.31px;top:339.30px"></i>
<i class="dk" style="left:881.38px;top:339.30px"></i>
<i class="dk" style="left:896.45px;top:339.30px"></i>
<i class="dk" style="left:911.52px;top:339.30px"></i>
<i class="dk" style="left:926.59px;top:339.30px"></i>
<i class="dk" style="left:941.66px;top:339.30px"></i>
<i class="dk" style="left:956.73px;top:339.30px"></i>
<i class="dk" style="left:971.80px;top:339.30px"></i>
<i class="dk" style="left:986.87px;top:339.30px"></i>
<i class="dk" style="left:1001.94px;top:339.30px"></i>
<div class="lb" style="left:643px;top:357.00px;letter-spacing:0.725px">Adjustable trickle ventilation to</div>
<div class="lb" style="left:643px;top:367.60px;letter-spacing:0.9px">windows</div>
<i class="dk" style="left:821.10px;top:363.80px"></i>
<i class="dk" style="left:836.17px;top:363.80px"></i>
<i class="dk" style="left:851.24px;top:363.80px"></i>
<i class="dk" style="left:866.31px;top:363.80px"></i>
<i class="dk" style="left:881.38px;top:363.80px"></i>
<i class="dk" style="left:896.45px;top:363.80px"></i>
<i class="dk" style="left:911.52px;top:363.80px"></i>
<i class="dk" style="left:926.59px;top:363.80px"></i>
<i class="dk" style="left:941.66px;top:363.80px"></i>
<i class="dk" style="left:956.73px;top:363.80px"></i>
<i class="dk" style="left:971.80px;top:363.80px"></i>
<i class="dk" style="left:986.87px;top:363.80px"></i>
<i class="dk" style="left:1001.94px;top:363.80px"></i>
<div class="lb" style="left:643px;top:386.65px;letter-spacing:0.641px">Burglar alarm</div>
<i class="dk" style="left:821.10px;top:388.15px"></i>
<i class="dk" style="left:836.17px;top:388.15px"></i>
<i class="dk" style="left:851.24px;top:388.15px"></i>
<i class="dk" style="left:866.31px;top:388.15px"></i>
<i class="dk" style="left:881.38px;top:388.15px"></i>
<i class="dk" style="left:896.45px;top:388.15px"></i>
<i class="dk" style="left:911.52px;top:388.15px"></i>
<i class="dk" style="left:926.59px;top:388.15px"></i>
<i class="dk" style="left:941.66px;top:388.15px"></i>
<i class="dk" style="left:956.73px;top:388.15px"></i>
<i class="dk" style="left:971.80px;top:388.15px"></i>
<i class="dk" style="left:986.87px;top:388.15px"></i>
<i class="dk" style="left:1001.94px;top:388.15px"></i>
<div class="lb" style="left:643px;top:405.75px;letter-spacing:0.816px">Window locks to ground floors</div>
<i class="dk" style="left:821.10px;top:407.25px"></i>
<i class="dk" style="left:836.17px;top:407.25px"></i>
<i class="dk" style="left:851.24px;top:407.25px"></i>
<i class="dk" style="left:866.31px;top:407.25px"></i>
<i class="dk" style="left:881.38px;top:407.25px"></i>
<i class="dk" style="left:896.45px;top:407.25px"></i>
<i class="dk" style="left:911.52px;top:407.25px"></i>
<i class="dk" style="left:926.59px;top:407.25px"></i>
<i class="dk" style="left:941.66px;top:407.25px"></i>
<i class="dk" style="left:956.73px;top:407.25px"></i>
<i class="dk" style="left:971.80px;top:407.25px"></i>
<i class="dk" style="left:986.87px;top:407.25px"></i>
<i class="dk" style="left:1001.94px;top:407.25px"></i>
<div class="lb" style="left:643px;top:424.85px;letter-spacing:0.809px">Composite construction</div>
<div class="lb" style="left:643px;top:435.45px;letter-spacing:0.836px">front door</div>
<i class="dk" style="left:851.24px;top:431.65px"></i>
<i class="dk" style="left:866.31px;top:431.65px"></i>
<i class="dk" style="left:881.38px;top:431.65px"></i>
<i class="dk" style="left:896.45px;top:431.65px"></i>
<i class="dk" style="left:911.52px;top:431.65px"></i>
<i class="dk" style="left:926.59px;top:431.65px"></i>
<i class="dk" style="left:941.66px;top:431.65px"></i>
<i class="dk" style="left:956.73px;top:431.65px"></i>
<i class="dk" style="left:971.80px;top:431.65px"></i>
<i class="dk" style="left:986.87px;top:431.65px"></i>
<i class="dk" style="left:1001.94px;top:431.65px"></i>
<div class="lb" style="left:643px;top:454.25px;letter-spacing:0.856px">Multi point locking to patio/</div>
<div class="lb" style="left:643px;top:464.85px;letter-spacing:0.712px">french doors (where applicable)</div>
<i class="dk" style="left:821.10px;top:461.05px"></i>
<i class="dk" style="left:836.17px;top:461.05px"></i>
<i class="dk" style="left:851.24px;top:461.05px"></i>
<i class="dk" style="left:866.31px;top:461.05px"></i>
<i class="dk" style="left:881.38px;top:461.05px"></i>
<i class="dk" style="left:896.45px;top:461.05px"></i>
<i class="dk" style="left:911.52px;top:461.05px"></i>
<i class="dk" style="left:926.59px;top:461.05px"></i>
<i class="dk" style="left:941.66px;top:461.05px"></i>
<i class="dk" style="left:956.73px;top:461.05px"></i>
<i class="dk" style="left:971.80px;top:461.05px"></i>
<i class="dk" style="left:986.87px;top:461.05px"></i>
<i class="dk" style="left:1001.94px;top:461.05px"></i>
<div class="lb" style="left:643px;top:483.90px;letter-spacing:0.678px">Mains connected smoke</div>
<div class="lb" style="left:643px;top:494.50px;letter-spacing:0.905px">detectors</div>
<i class="dk" style="left:821.10px;top:490.70px"></i>
<i class="dk" style="left:836.17px;top:490.70px"></i>
<i class="dk" style="left:851.24px;top:490.70px"></i>
<i class="dk" style="left:866.31px;top:490.70px"></i>
<i class="dk" style="left:881.38px;top:490.70px"></i>
<i class="dk" style="left:896.45px;top:490.70px"></i>
<i class="dk" style="left:911.52px;top:490.70px"></i>
<i class="dk" style="left:926.59px;top:490.70px"></i>
<i class="dk" style="left:941.66px;top:490.70px"></i>
<i class="dk" style="left:956.73px;top:490.70px"></i>
<i class="dk" style="left:971.80px;top:490.70px"></i>
<i class="dk" style="left:986.87px;top:490.70px"></i>
<i class="dk" style="left:1001.94px;top:490.70px"></i>
<div class="lb" style="left:643px;top:513.75px;letter-spacing:0.652px">Fire egress windows (where</div>
<div class="lb" style="left:643px;top:524.35px;letter-spacing:0.644px">applicable)</div>
<i class="dk" style="left:821.10px;top:520.55px"></i>
<i class="dk" style="left:836.17px;top:520.55px"></i>
<i class="dk" style="left:851.24px;top:520.55px"></i>
<i class="dk" style="left:866.31px;top:520.55px"></i>
<i class="dk" style="left:881.38px;top:520.55px"></i>
<i class="dk" style="left:896.45px;top:520.55px"></i>
<i class="dk" style="left:911.52px;top:520.55px"></i>
<i class="dk" style="left:926.59px;top:520.55px"></i>
<i class="dk" style="left:941.66px;top:520.55px"></i>
<i class="dk" style="left:956.73px;top:520.55px"></i>
<i class="dk" style="left:971.80px;top:520.55px"></i>
<i class="dk" style="left:986.87px;top:520.55px"></i>
<i class="dk" style="left:1001.94px;top:520.55px"></i>
<div class="lb" style="left:643px;top:542.95px;letter-spacing:0.692px">External security lighting</div>
<i class="dk" style="left:821.10px;top:545.25px"></i>
<i class="dk" style="left:836.17px;top:545.25px"></i>
<i class="dk" style="left:851.24px;top:545.25px"></i>
<i class="dk" style="left:866.31px;top:545.25px"></i>
<i class="dk" style="left:881.38px;top:545.25px"></i>
<i class="dk" style="left:896.45px;top:545.25px"></i>
<i class="dk" style="left:911.52px;top:545.25px"></i>
<i class="dk" style="left:926.59px;top:545.25px"></i>
<i class="dk" style="left:941.66px;top:545.25px"></i>
<i class="dk" style="left:956.73px;top:545.25px"></i>
<i class="dk" style="left:971.80px;top:545.25px"></i>
<i class="dk" style="left:986.87px;top:545.25px"></i>
<i class="dk" style="left:1001.94px;top:545.25px"></i>
<div class="lb" style="left:643px;top:562.10px;letter-spacing:0.724px">Integrated washing machine</div>
<i class="dt" style="left:821.10px;top:563.20px"></i>
<i class="dt" style="left:836.17px;top:563.20px"></i>
<i class="dt" style="left:851.24px;top:563.20px"></i>
<i class="dt" style="left:866.31px;top:563.20px"></i>
<i class="dt" style="left:881.38px;top:563.20px"></i>
<i class="dt" style="left:896.45px;top:563.20px"></i>
<i class="dt" style="left:911.52px;top:563.20px"></i>
<i class="dt" style="left:926.59px;top:563.20px"></i>
<i class="dt" style="left:941.66px;top:563.20px"></i>
<i class="dt" style="left:956.73px;top:563.20px"></i>
<i class="dt" style="left:971.80px;top:563.20px"></i>
<i class="dt" style="left:986.87px;top:563.20px"></i>
<i class="dt" style="left:1001.94px;top:563.20px"></i>
<div class="lb" style="left:643px;top:581.20px;letter-spacing:0.718px">Integrated larder fridge</div>
<i class="dt" style="left:821.10px;top:582.60px"></i>
<i class="dt" style="left:836.17px;top:582.60px"></i>
<i class="dt" style="left:851.24px;top:582.60px"></i>
<i class="dt" style="left:866.31px;top:582.60px"></i>
<i class="dt" style="left:881.38px;top:582.60px"></i>
<i class="dt" style="left:896.45px;top:582.60px"></i>
<i class="dt" style="left:911.52px;top:582.60px"></i>
<i class="dt" style="left:926.59px;top:582.60px"></i>
<i class="dt" style="left:941.66px;top:582.60px"></i>
<i class="dt" style="left:956.73px;top:582.60px"></i>
<i class="dt" style="left:971.80px;top:582.60px"></i>
<i class="dt" style="left:986.87px;top:582.60px"></i>
<i class="dt" style="left:1001.94px;top:582.60px"></i>
<div class="lb" style="left:643px;top:600.60px;letter-spacing:0.697px">Double oven</div>
<i class="dt" style="left:821.10px;top:602.50px"></i>
<i class="dt" style="left:836.17px;top:602.50px"></i>
<i class="dt" style="left:851.24px;top:602.50px"></i>
<i class="dt" style="left:866.31px;top:602.50px"></i>
<i class="dt" style="left:881.38px;top:602.50px"></i>
<i class="dt" style="left:896.45px;top:602.50px"></i>
<i class="dt" style="left:911.52px;top:602.50px"></i>
<i class="dt" style="left:926.59px;top:602.50px"></i>
<i class="dt" style="left:941.66px;top:602.50px"></i>
<i class="dt" style="left:956.73px;top:602.50px"></i>
<i class="dt" style="left:971.80px;top:602.50px"></i>
<i class="dt" style="left:986.87px;top:602.50px"></i>
<i class="dt" style="left:1001.94px;top:602.50px"></i>
<div class="hd" style="left:832.60px;top:83px">Oak</div>
<div class="hd" style="left:847.44px;top:83px">Ash</div>
<div class="hd" style="left:862.28px;top:83px">Beech</div>
<div class="hd" style="left:877.12px;top:83px">Sycamore</div>
<div class="hd" style="left:891.96px;top:83px">Birch</div>
<div class="hd" style="left:906.80px;top:83px">Cherry</div>
<div class="hd" style="left:921.64px;top:83px">Hazel</div>
<div class="hd" style="left:936.48px;top:83px">Alder</div>
<div class="hd" style="left:951.32px;top:83px">Rowan</div>
<div class="hd" style="left:966.16px;top:83px">Hawthorn</div>
<div class="hd" style="left:981.00px;top:83px">Maple</div>
<div class="hd" style="left:995.84px;top:83px">Willow</div>
<div class="hd" style="left:1010.68px;top:83px">Chestnut</div>
<i class="dk" style="left:636.5px;top:676.7px"></i><div class="lg" style="top:672px">Standard</div>
<i class="dt" style="left:636.5px;top:690.3px"></i><div class="lg" style="top:684.8px">Optional extra</div>
<div class="ft">Every care has been taken to ensure the accuracy of the specification information. The contents of the specification do not form or constitute a warranty or represent part of any contract.<br>PAR Homes reserves the right to amend and/or update specification at their discretion. On-site specification may vary. Please check specification with the Sales Agent. February 2020.</div>
<div class="logo-t">BEACONS GATE</div>
<div class="logo-s">BRECON</div>
<div class="p1" style="top:301px;letter-spacing:0.408px">Energy efficient construction</div>
<div class="p1" style="top:314px;letter-spacing:0.358px">PAR Homes Ltd are committed</div>
<div class="p1" style="top:327px;letter-spacing:0.381px">to embrace energy efficient</div>
<div class="p1" style="top:340px;letter-spacing:0.411px">methods of construction and</div>
<div class="p1" style="top:353px;letter-spacing:0.289px">the Beacons Gate development</div>
<div class="p1" style="top:366px;letter-spacing:0.331px">incorporates the following:</div>
<div class="p2" style="top:392px;letter-spacing:0.194px">Thermally insulated building</div>
<div class="p2" style="top:405px;letter-spacing:0.182px">foundations.</div>
<div class="p2" style="top:418px;letter-spacing:0.260px">Highly insulated timber frame</div>
<div class="p2" style="top:431px;letter-spacing:0.138px">structure from sustainable</div>
<div class="p2" style="top:444px;letter-spacing:-0.200px">sources.</div>
<div class="p2" style="top:457px;letter-spacing:0.081px">12” of loft insulation.</div>
<div class="p2" style="top:470px;letter-spacing:0.284px">High performance draft proof</div>
<div class="p2" style="top:483px;letter-spacing:0.220px">‘Pilkington K’ glazed windows</div>
<div class="p2" style="top:496px;letter-spacing:0.188px">- “Keeping buildings cool in</div>
<div class="p2" style="top:509px;letter-spacing:0.228px">the summer and warm in</div>
<div class="p2" style="top:522px;letter-spacing:0.186px">the winter”¹.</div>
<div class="p2" style="top:535px;letter-spacing:0.048px">Source ¹ Pilkington.</div>
<div class="p3" style="top:561px;letter-spacing:0.266px">High Speed Internet Access</div>
<div class="p3" style="top:574px;letter-spacing:0.266px">Properties at Beacons Gate</div>
<div class="p3" style="top:587px;letter-spacing:0.482px">will be fed with fibre-optic</div>
<div class="p3" style="top:600px;letter-spacing:0.276px">cables for high speed</div>
<div class="p3" style="top:613px;letter-spacing:0.159px">internet access. Speeds</div>
<div class="p3" style="top:626px;letter-spacing:0.537px">of up to 300mb will be</div>
<div class="p3" style="top:639px;letter-spacing:0.301px">available depending</div>
<div class="p3" style="top:652px;letter-spacing:0.318px">on packages offered</div>
<div class="p3" style="top:665px;letter-spacing:0.164px">by BT.</div>
</div>
<svg id="art" viewBox="0 0 1024 768">
<g stroke="#f7e8cb" stroke-width="1.2" stroke-linecap="square"><line x1="55.00" y1="109.80" x2="55.00" y2="173.10" stroke-width="1.2"/><line x1="113.30" y1="109.80" x2="113.30" y2="173.10" stroke-width="1.2"/><line x1="61.25" y1="113.00" x2="61.25" y2="173.10" stroke-width="1.2"/><line x1="107.05" y1="113.00" x2="107.05" y2="173.10" stroke-width="1.2"/><line x1="68.40" y1="108.30" x2="68.40" y2="173.10" stroke-width="1.2"/><line x1="99.90" y1="108.30" x2="99.90" y2="173.10" stroke-width="1.2"/><line x1="74.70" y1="105.60" x2="74.70" y2="173.10" stroke-width="1.2"/><line x1="93.60" y1="105.60" x2="93.60" y2="173.10" stroke-width="1.2"/><line x1="81.40" y1="102.50" x2="81.40" y2="173.10" stroke-width="1.2"/><line x1="86.90" y1="102.50" x2="86.90" y2="173.10" stroke-width="1.2"/><path d="M55 117 Q70 114.5 81.4 109.6" fill="none"/><path d="M113.30 117 Q98.30 114.5 86.90 109.6" fill="none"/><line x1="54.20" y1="166.60" x2="81.90" y2="166.60" stroke-width="1.2"/><line x1="114.10" y1="166.60" x2="86.40" y2="166.60" stroke-width="1.2"/><line x1="54.20" y1="169.70" x2="81.90" y2="169.70" stroke-width="1.2"/><line x1="114.10" y1="169.70" x2="86.40" y2="169.70" stroke-width="1.2"/></g>
<g stroke="#f7e8cb" stroke-width="1.1" fill="rgba(247,232,203,.34)" stroke-linejoin="round"><path d="M31.23 145.56 C31.00 147.52 29.69 153.37 29.83 157.27 C29.96 161.18 30.90 165.28 32.05 168.98 C33.20 172.69 34.59 176.20 36.74 179.52 C38.88 182.84 41.81 186.16 44.93 188.89 C48.05 191.62 51.37 193.93 55.47 195.92 C59.57 197.91 64.84 199.47 69.52 200.83 C74.21 202.20 79.87 202.98 83.57 204.11 C87.28 205.24 89.23 206.16 91.77 207.63 C94.31 209.09 97.63 212.02 98.80 212.89" fill="none" stroke-width="1.1"/><path transform="translate(31.23 145.56) rotate(-90.0)" d="M0 0 Q4.67 -3.20 11.12 0 Q4.67 3.20 0 0Z"/><path transform="translate(27.37 154.35) rotate(-118.1)" d="M0 0 Q4.18 -3.60 9.95 0 Q4.18 3.60 0 0Z"/><path transform="translate(29.71 166.06) rotate(-133.0)" d="M0 0 Q5.05 -3.60 12.01 0 Q5.05 3.60 0 0Z"/><path transform="translate(33.22 177.18) rotate(-137.1)" d="M0 0 Q4.70 -3.60 11.19 0 Q4.70 3.60 0 0Z"/><path transform="translate(39.66 186.55) rotate(-157.2)" d="M0 0 Q5.07 -3.60 12.07 0 Q5.07 3.60 0 0Z"/><path transform="translate(49.03 195.92) rotate(-166.6)" d="M0 0 Q5.31 -3.60 12.64 0 Q5.31 3.60 0 0Z"/><path transform="translate(57.23 201.19) rotate(-170.5)" d="M0 0 Q5.98 -3.60 14.25 0 Q5.98 3.60 0 0Z"/><path transform="translate(66.59 203.53) rotate(176.5)" d="M0 0 Q5.67 -3.60 13.49 0 Q5.67 3.60 0 0Z"/><path transform="translate(30.65 155.52) rotate(-66.9)" d="M0 0 Q4.01 -3.60 9.55 0 Q4.01 3.60 0 0Z"/><path transform="translate(33.22 166.06) rotate(-74.5)" d="M0 0 Q4.59 -3.60 10.94 0 Q4.59 3.60 0 0Z"/><path transform="translate(37.32 174.84) rotate(-83.7)" d="M0 0 Q4.45 -3.60 10.60 0 Q4.45 3.60 0 0Z"/><path transform="translate(44.35 182.45) rotate(-104.7)" d="M0 0 Q4.83 -3.60 11.50 0 Q4.83 3.60 0 0Z"/><path transform="translate(53.13 191.23) rotate(-115.3)" d="M0 0 Q5.17 -3.60 12.31 0 Q5.17 3.60 0 0Z"/><path transform="translate(63.08 195.92) rotate(-117.6)" d="M0 0 Q5.83 -3.60 13.88 0 Q5.83 3.60 0 0Z"/><path transform="translate(71.28 199.43) rotate(-118.6)" d="M0 0 Q6.16 -3.60 14.67 0 Q6.16 3.60 0 0Z"/></g>
<g stroke="#f7e8cb" stroke-width="1.1" fill="rgba(247,232,203,.34)" stroke-linejoin="round" transform="translate(168.30 0) scale(-1 1)"><path d="M31.23 145.56 C31.00 147.52 29.69 153.37 29.83 157.27 C29.96 161.18 30.90 165.28 32.05 168.98 C33.20 172.69 34.59 176.20 36.74 179.52 C38.88 182.84 41.81 186.16 44.93 188.89 C48.05 191.62 51.37 193.93 55.47 195.92 C59.57 197.91 64.84 199.47 69.52 200.83 C74.21 202.20 79.87 202.98 83.57 204.11 C87.28 205.24 89.23 206.16 91.77 207.63 C94.31 209.09 97.63 212.02 98.80 212.89" fill="none" stroke-width="1.1"/><path transform="translate(31.23 145.56) rotate(-90.0)" d="M0 0 Q4.67 -3.20 11.12 0 Q4.67 3.20 0 0Z"/><path transform="translate(27.37 154.35) rotate(-118.1)" d="M0 0 Q4.18 -3.60 9.95 0 Q4.18 3.60 0 0Z"/><path transform="translate(29.71 166.06) rotate(-133.0)" d="M0 0 Q5.05 -3.60 12.01 0 Q5.05 3.60 0 0Z"/><path transform="translate(33.22 177.18) rotate(-137.1)" d="M0 0 Q4.70 -3.60 11.19 0 Q4.70 3.60 0 0Z"/><path transform="translate(39.66 186.55) rotate(-157.2)" d="M0 0 Q5.07 -3.60 12.07 0 Q5.07 3.60 0 0Z"/><path transform="translate(49.03 195.92) rotate(-166.6)" d="M0 0 Q5.31 -3.60 12.64 0 Q5.31 3.60 0 0Z"/><path transform="translate(57.23 201.19) rotate(-170.5)" d="M0 0 Q5.98 -3.60 14.25 0 Q5.98 3.60 0 0Z"/><path transform="translate(66.59 203.53) rotate(176.5)" d="M0 0 Q5.67 -3.60 13.49 0 Q5.67 3.60 0 0Z"/><path transform="translate(30.65 155.52) rotate(-66.9)" d="M0 0 Q4.01 -3.60 9.55 0 Q4.01 3.60 0 0Z"/><path transform="translate(33.22 166.06) rotate(-74.5)" d="M0 0 Q4.59 -3.60 10.94 0 Q4.59 3.60 0 0Z"/><path transform="translate(37.32 174.84) rotate(-83.7)" d="M0 0 Q4.45 -3.60 10.60 0 Q4.45 3.60 0 0Z"/><path transform="translate(44.35 182.45) rotate(-104.7)" d="M0 0 Q4.83 -3.60 11.50 0 Q4.83 3.60 0 0Z"/><path transform="translate(53.13 191.23) rotate(-115.3)" d="M0 0 Q5.17 -3.60 12.31 0 Q5.17 3.60 0 0Z"/><path transform="translate(63.08 195.92) rotate(-117.6)" d="M0 0 Q5.83 -3.60 13.88 0 Q5.83 3.60 0 0Z"/><path transform="translate(71.28 199.43) rotate(-118.6)" d="M0 0 Q6.16 -3.60 14.67 0 Q6.16 3.60 0 0Z"/></g><defs>
<linearGradient id="gb1" gradientUnits="userSpaceOnUse" x1="238" y1="418" x2="100" y2="768">
 <stop offset="0" stop-color="#7f8f40"/><stop offset=".28" stop-color="#5f7f34"/><stop offset=".45" stop-color="#35582b"/><stop offset=".65" stop-color="#26412a"/><stop offset="1" stop-color="#243c29"/>
</linearGradient>
<linearGradient id="gb2" gradientUnits="userSpaceOnUse" x1="174" y1="495" x2="90" y2="768">
 <stop offset="0" stop-color="#44692f"/><stop offset=".3" stop-color="#35582b"/><stop offset=".6" stop-color="#2c4a2a"/><stop offset="1" stop-color="#27422a"/>
</linearGradient>
<linearGradient id="dr1" x1="0" y1="0" x2="0" y2="1">
 <stop offset="0" stop-color="#8a6f3a" stop-opacity=".92"/><stop offset=".5" stop-color="#9a8558" stop-opacity=".88"/><stop offset=".72" stop-color="#cfc3ad" stop-opacity=".9"/><stop offset="1" stop-color="#f3ece4" stop-opacity=".95"/>
</linearGradient>
<linearGradient id="dr2" x1="1" y1="0" x2="0" y2="1">
 <stop offset="0" stop-color="#5f6a42" stop-opacity=".9"/><stop offset=".45" stop-color="#b4b69a" stop-opacity=".9"/><stop offset="1" stop-color="#f0eedc" stop-opacity=".97"/>
</linearGradient>
</defs>
<path d="M161.5 511.5 C152 518 143.2 531 143.2 541.5 C143.2 549 146 553.5 149 553.6 L156 548 L166 516 Z" fill="url(#dr2)"/>
<path d="M173.4 494.6 L170.4 502.9 L161 514.6 L155.1 536.8 L148.1 555.6 L141.1 580 L129 620 L108 690 L84 768 L106 768 L134 680 L151 612 L161.5 580 L166.8 562.6 L171.5 545 L175.2 525 L175.2 502.9 L174 494.6Z" fill="url(#gb2)"/>
<path d="M173.8 494 L171.8 500.5 L175.6 501.5 Z" fill="#a8603a"/>
<path d="M170.8 503 L161.4 514.8 L155.5 537 L148.5 555.8 L141.5 580 L129.5 620 L108.5 690 L84.6 768" stroke="#7fa552" stroke-width="1.6" fill="none" opacity=".6"/>
<path d="M237.6 418.6 L235.8 423.5 L221.4 450.6 L204.5 487.9 L185.9 528.5 L167 565 L150 612 L128 680 L100 768 L115 768 L138 690 L154 640 L169.5 604 L185 568 L196.9 540 L209.6 508.2 L226.5 467.5 L234.9 443.9 L240 425.2 L238.6 418.6Z" fill="url(#gb1)"/>
<path d="M238.1 417.5 L235.2 425 L240.3 426.5 Z" fill="#c2653c"/>
<path d="M238 426 L230 447 L218 478 L202 518 L188 553 L174 590 L158 628 L140 680 L113 768 L106 768 L128 700 L148 640 L168 590 L196 525 L214 482 L228 449 Z" fill="#24481f" opacity=".35"/>
<path d="M235.8 423.5 L221.4 450.6 L204.5 487.9 L185.9 528.5 L167 565 L150 612" stroke="#9fb562" stroke-width="1" fill="none" opacity=".75"/>
<path d="M184.2 568 L168.8 604 L153.3 640 L137.3 690 L114.2 768" stroke="#5f8f42" stroke-width="1.8" fill="none" opacity=".65"/>
<path d="M240 425.5 C243 435 252.6 444 252.6 456 C252.6 466 246 471.8 238.5 471.8 C232.5 471.8 228.5 469.5 226.8 466.8 C231 456 236.5 440 240 425.5 Z" fill="url(#dr1)"/>
<path d="M228 467 C233 472 247 472 252 461" stroke="#f8f3ec" stroke-width="1.4" fill="none" opacity=".9"/>
</svg>
</body>
</html>
